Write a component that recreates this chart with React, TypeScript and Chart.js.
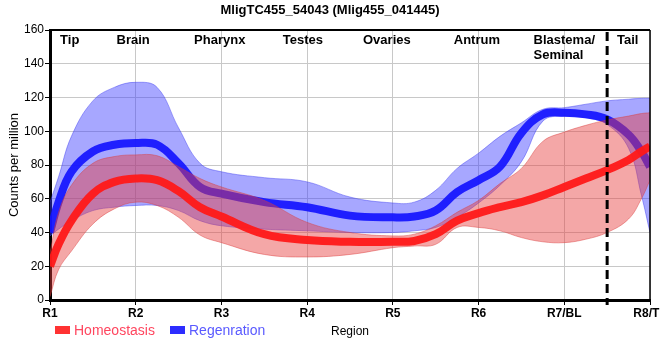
import React, { useEffect, useRef } from "react";
import { Chart, registerables } from "chart.js";

Chart.register(...registerables);

const chartTitle = "MligTC455_54043 (Mlig455_041445)";
const xTickLabels = ["R1", "R2", "R3", "R4", "R5", "R6", "R7/BL", "R8/TL"];
const regionNames = ["Tip", "Brain", "Pharynx", "Testes", "Ovaries", "Antrum", "Blastema/\nSeminal", "Tail"];
const regionAnchors = [0.23, 0.97, 1.98, 2.95, 3.93, 4.98, 6.0, 6.74];
const boundaryAt = 6.5;
const seriesNames = ["Homeostasis", "Regenration"];

const positions = [0, 0.1, 0.25, 0.5, 0.75, 1, 1.25, 1.5, 1.75, 2, 2.5, 3, 3.5, 4, 4.25, 4.5, 4.75, 5, 5.25, 5.5, 5.75, 6, 6.25, 6.5, 6.75, 6.9, 7];

const homeostasisMean = [20, 33, 47, 63, 70, 72, 71, 64.5, 55, 49.5, 39, 35.5, 34.5, 34.5, 35, 39, 47, 51.5, 55, 58, 62, 67, 72, 77, 83, 88, 91];
const homeostasisUpper = [28, 52, 68, 81, 85, 86, 85.5, 79, 72, 67, 59, 46, 40, 38, 39, 44, 52, 59, 69, 78, 94, 99.5, 103.5, 106.7, 109, 110.5, 111];
const homeostasisLower = [2, 18, 29, 45, 54, 58, 56, 49, 38.5, 34, 27, 25.5, 27, 31, 32, 33, 43, 43, 41, 37, 34.5, 34, 36, 40, 48, 60, 71];

const regenerationMean = [40, 58, 76, 88, 92, 93, 92, 81, 67, 63, 58, 55, 50, 49, 49.5, 53, 64, 71, 79, 99, 110, 111, 110, 107, 98, 88, 79];
const regenerationUpper = [58, 73, 97, 118, 126, 129, 126, 102, 81, 76, 72.5, 70, 61, 57.5, 58, 65, 78, 87, 97, 105, 113, 114, 116, 118, 119, 119.5, 119.5];
const regenerationLower = [38, 42, 47, 53, 55, 56, 56, 53, 47, 44, 42, 41, 40, 40, 41, 43, 49, 57.5, 68, 82, 106, 109, 108, 104, 90, 62, 40];

const toPoints = (vals: number[]) => vals.map((y, i) => ({ x: positions[i], y }));

const FONT = "'Liberation Sans', Arial, sans-serif";

export default function App() {
  const ref = useRef<HTMLCanvasElement>(null);

  useEffect(() => {
    const canvas = ref.current;
    if (!canvas) return;

    const overlay = {
      id: "overlay",
      afterDraw(chart: any) {
        const { ctx, chartArea: a, scales } = chart;
        const x = scales.x;
        ctx.save();
        ctx.strokeStyle = "#000";
        ctx.lineWidth = 2;
        ctx.beginPath();
        ctx.moveTo(a.left, a.top);
        ctx.lineTo(a.right, a.top);
        ctx.stroke();
        ctx.lineWidth = 1.5;
        ctx.beginPath();
        ctx.moveTo(a.right, a.top);
        ctx.lineTo(a.right, a.bottom);
        ctx.stroke();
        const bx = x.getPixelForValue(boundaryAt);
        ctx.lineWidth = 3;
        ctx.setLineDash([9, 5]);
        ctx.beginPath();
        ctx.moveTo(bx, a.top + 2);
        ctx.lineTo(bx, a.bottom + 5);
        ctx.stroke();
        ctx.setLineDash([]);
        ctx.fillStyle = "#000";
        ctx.font = `bold 13px ${FONT}`;
        ctx.textAlign = "center";
        ctx.textBaseline = "middle";
        ctx.fillText(chartTitle, 330, 10);
        ctx.font = `bold 13px ${FONT}`;
        ctx.textAlign = "left";
        regionNames.forEach((name, i) => {
          const lines = name.split("\n");
          const w = Math.max(...lines.map((l) => ctx.measureText(l).width));
          const px = x.getPixelForValue(regionAnchors[i]) - w / 2;
          lines.forEach((l, j) => ctx.fillText(l, px, a.top + 10 + j * 15));
        });
        const ly = a.bottom + 30;
        ctx.font = `14px ${FONT}`;
        ctx.fillStyle = "rgb(255,50,50)";
        ctx.fillRect(a.left + 5, ly - 4, 15, 8);
        ctx.fillStyle = "rgb(255,70,95)";
        ctx.fillText(seriesNames[0], a.left + 24, ly + 1);
        ctx.fillStyle = "rgb(45,45,255)";
        ctx.fillRect(a.left + 120, ly - 4, 15, 8);
        ctx.fillStyle = "rgb(90,90,255)";
        ctx.fillText(seriesNames[1], a.left + 139, ly + 1);
        ctx.restore();
      },
    };

    const common = { pointRadius: 0, pointHoverRadius: 0, tension: 0.4 };

    const chart = new Chart(canvas, {
      type: "line",
      data: {
        datasets: [
          { ...common, label: seriesNames[0], data: toPoints(homeostasisMean), borderColor: "rgba(255,25,25,0.95)", borderWidth: 8, fill: false, order: 0 },
          { ...common, label: seriesNames[1], data: toPoints(regenerationMean), borderColor: "rgba(20,20,255,0.92)", borderWidth: 8, fill: false, order: 2 },
          { ...common, label: "H upper", data: toPoints(homeostasisUpper), borderColor: "rgba(215,60,60,0.45)", borderWidth: 1, backgroundColor: "rgba(230,60,60,0.45)", fill: "+1", order: 1 },
          { ...common, label: "H lower", data: toPoints(homeostasisLower), borderColor: "rgba(215,60,60,0.45)", borderWidth: 1, fill: false, order: 1 },
          { ...common, label: "R upper", data: toPoints(regenerationUpper), borderColor: "rgba(60,60,240,0.45)", borderWidth: 1, backgroundColor: "rgba(60,60,255,0.45)", fill: "+1", order: 3 },
          { ...common, label: "R lower", data: toPoints(regenerationLower), borderColor: "rgba(60,60,240,0.45)", borderWidth: 1, fill: false, order: 3 },
        ],
      },
      options: {
        animation: false,
        responsive: false,
        devicePixelRatio: 1,
        layout: { padding: { top: 30, right: 50, left: 0, bottom: 0 } },
        plugins: { legend: { display: false }, tooltip: { enabled: false }, title: { display: false } },
        scales: {
          x: {
            type: "linear",
            min: 0,
            max: 7,
            afterFit: (s: any) => {
              s.height = 60;
            },
            ticks: {
              stepSize: 1,
              autoSkip: false,
              maxRotation: 0,
              padding: 1,
              color: "#000",
              font: { family: FONT, size: 12, weight: "bold" },
              callback: (v: any) => xTickLabels[Math.round(Number(v))] ?? "",
            },
            grid: { color: "#c8c8c8", lineWidth: 1, tickColor: "#000", tickLength: 5 },
            border: { color: "#000", width: 3 },
            title: { display: true, text: "Region", color: "#000", font: { family: FONT, size: 12 }, padding: { top: 0, bottom: 21 } },
          },
          y: {
            min: 0,
            max: 160,
            afterFit: (s: any) => {
              s.width = 50;
            },
            ticks: { stepSize: 20, padding: 1, color: "#000", font: { family: FONT, size: 12 } },
            grid: { color: "#c8c8c8", lineWidth: 1, tickColor: "#000", tickLength: 5 },
            border: { color: "#000", width: 3 },
            title: { display: true, text: "Counts per million", color: "#000", font: { family: FONT, size: 13 }, padding: { top: 7, bottom: 0 } },
          },
        },
      },
      plugins: [overlay],
    });

    return () => chart.destroy();
  }, []);

  return (
    <div style={{ position: "fixed", left: 0, top: 0, width: 660, height: 360, overflow: "hidden", background: "#fff" }}>
      <canvas ref={ref} width={700} height={360} style={{ display: "block" }} />
    </div>
  );
}
